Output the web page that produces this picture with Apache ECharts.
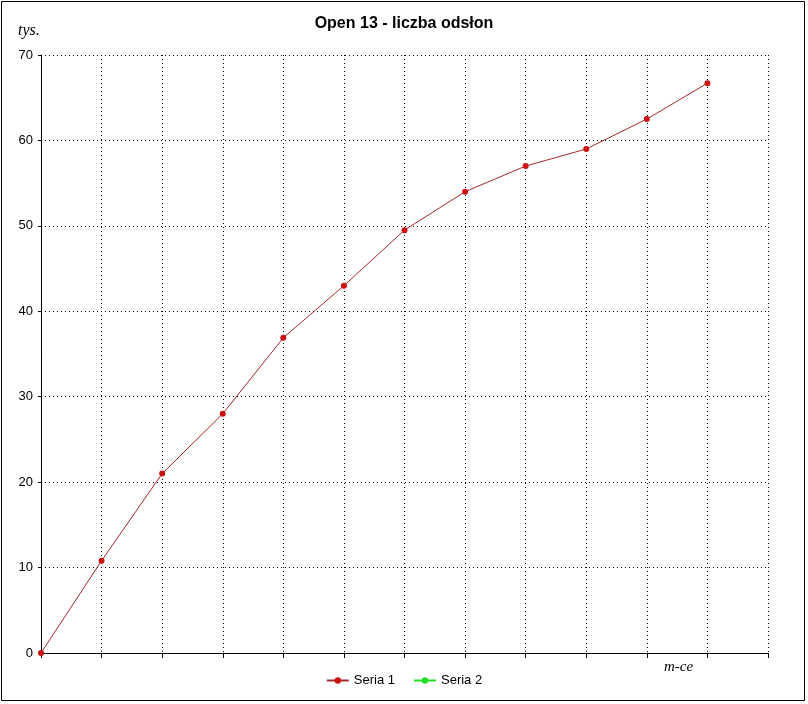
<!DOCTYPE html>
<html><head><meta charset="utf-8">
<script src="https://cdn.jsdelivr.net/npm/echarts@6/dist/echarts.min.js"></script>
<style>html,body{margin:0;padding:0;background:#fff}#c{width:808px;height:704px}</style>
</head><body><div id="c"></div>
<script>
const categories = ['1','2','3','4','5','6','7','8','9','10','11','12','13'];
const seria1 = [0, 10.8, 21.0, 28.0, 36.9, 43.0, 49.5, 54.0, 57.0, 59.0, 62.5, 66.7];
const seria2 = [];
const yTicks = [0, 10, 20, 30, 40, 50, 60, 70];

const chart = echarts.init(document.getElementById('c'), null, {renderer: 'canvas'});
chart.setOption({
  backgroundColor: '#fff',
  animation: false,
  title: {
    text: 'Open 13 - liczba odsłon', left: 'center', top: 11,
    textStyle: {fontFamily: 'Liberation Sans, Arial', fontSize: 16, fontWeight: 'bold', color: '#000'}
  },
  graphic: [
    {type: 'rect', shape: {x: 1.5, y: 1.5, width: 803, height: 699}, style: {fill: 'none', stroke: '#000', lineWidth: 1}, silent: true},
    {type: 'text', left: 18, top: 23, style: {text: 'tys.', font: 'italic 16px "Liberation Serif", serif', fill: '#000'}},
    {type: 'text', left: 664, top: 660, style: {text: 'm-ce', font: 'italic 15px "Liberation Serif", serif', fill: '#000'}}
  ],
  legend: {
    bottom: 12, left: 'center', itemWidth: 22, itemHeight: 8, itemGap: 18,
    textStyle: {fontFamily: 'Liberation Sans, Arial', fontSize: 13, color: '#000'},
    data: ['Seria 1', 'Seria 2']
  },
  grid: {left: 41, right: 40, top: 55, bottom: 51, containLabel: false},
  xAxis: {
    type: 'category', data: categories, boundaryGap: false,
    axisLine: {show: true, lineStyle: {color: '#000', width: 1}},
    axisTick: {show: true, length: 5, lineStyle: {color: '#000'}},
    axisLabel: {show: false},
    splitLine: {show: true, lineStyle: {color: '#000', type: [1, 3], width: 1}}
  },
  yAxis: {
    type: 'value', min: 0, max: 70, interval: 10,
    axisLine: {show: true, lineStyle: {color: '#000', width: 1}},
    axisTick: {show: true, length: 3, lineStyle: {color: '#000'}},
    axisLabel: {color: '#000', fontFamily: 'Liberation Sans, Arial', fontSize: 13, margin: 8,
      formatter: v => yTicks.includes(v) ? String(v) : ''},
    splitLine: {show: true, lineStyle: {color: '#000', type: [1, 3], width: 1}}
  },
  series: [
    {name: 'Seria 1', type: 'line', data: seria1, symbol: 'circle', symbolSize: 6,
     lineStyle: {color: '#a52a2a', width: 1}, itemStyle: {color: '#cc1111'}, color: '#cc1111'},
    {name: 'Seria 2', type: 'line', data: seria2, symbol: 'circle', symbolSize: 6,
     lineStyle: {color: '#22dd22', width: 1}, itemStyle: {color: '#22dd22'}, color: '#22dd22'}
  ]
});
</script></body></html>
